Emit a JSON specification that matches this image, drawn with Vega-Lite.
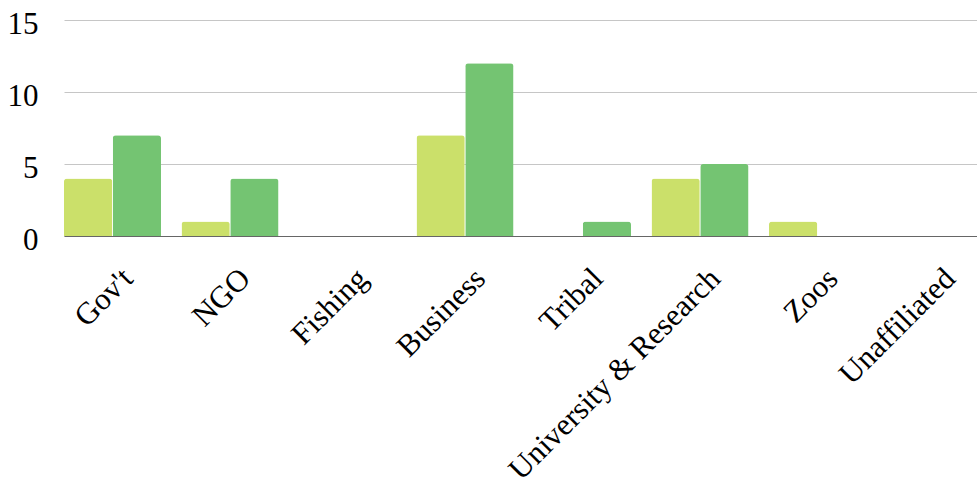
{
  "$schema": "https://vega.github.io/schema/vega-lite/v6.json",
  "autosize": {"type": "none"},
  "padding": {"left": 63, "top": 20, "right": 0, "bottom": 247},
  "width": 914,
  "height": 216,
  "background": "white",
  "data": {
    "values": [
      {"group": "Gov't", "series": "A", "value": 4},
      {"group": "Gov't", "series": "B", "value": 7},
      {"group": "NGO", "series": "A", "value": 1},
      {"group": "NGO", "series": "B", "value": 4},
      {"group": "Fishing", "series": "A", "value": 0},
      {"group": "Fishing", "series": "B", "value": 0},
      {"group": "Business", "series": "A", "value": 7},
      {"group": "Business", "series": "B", "value": 12},
      {"group": "Tribal", "series": "A", "value": 0},
      {"group": "Tribal", "series": "B", "value": 1},
      {"group": "University & Research", "series": "A", "value": 4},
      {"group": "University & Research", "series": "B", "value": 5},
      {"group": "Zoos", "series": "A", "value": 1},
      {"group": "Zoos", "series": "B", "value": 0},
      {"group": "Unaffiliated", "series": "A", "value": 0},
      {"group": "Unaffiliated", "series": "B", "value": 0}
    ]
  },
  "layer": [
    {
      "mark": {"type": "bar", "cornerRadiusTopLeft": 3, "cornerRadiusTopRight": 3},
      "transform": [{"filter": "datum.value > 0"}],
      "encoding": {
        "x": {
          "field": "group", "type": "nominal", "title": null,
          "sort": ["Gov't", "NGO", "Fishing", "Business", "Tribal", "University & Research", "Zoos", "Unaffiliated"],
          "scale": {"domain": ["Gov't", "NGO", "Fishing", "Business", "Tribal", "University & Research", "Zoos", "Unaffiliated"], "paddingInner": 0.1745, "paddingOuter": 0, "range": [1, 920.5]},
          "axis": {
            "labelAngle": -45, "labelAlign": "right", "labelBaseline": "alphabetic",
            "labelFont": "Liberation Serif", "labelFontSize": 31, "labelColor": "#000",
            "labelOffset": 22, "labelPadding": 44, "ticks": false, "tickSize": 0,
            "domainColor": "#666", "domainWidth": 1, "labelOverlap": false, "labelLimit": 0, "grid": false
          }
        },
        "xOffset": {"field": "series", "type": "nominal", "scale": {"domain": ["A", "B"], "paddingInner": 0.01}},
        "y": {
          "field": "value", "type": "quantitative", "title": null,
          "scale": {"domain": [0, 15], "nice": false},
          "axis": {
            "values": [0, 5, 10, 15], "domain": false, "ticks": false,
            "labelFont": "Liberation Serif", "labelFontSize": 31, "labelColor": "#000",
            "labelBaseline": "alphabetic", "labelOffset": 13,
            "labelPadding": 25, "gridColor": "#c6c6c6", "gridWidth": 1
          }
        },
        "color": {
          "field": "series", "type": "nominal", "legend": null,
          "scale": {"domain": ["A", "B"], "range": ["#cbe06a", "#74c472"]}
        }
      }
    }
  ],
  "config": {"view": {"stroke": null}}
}
